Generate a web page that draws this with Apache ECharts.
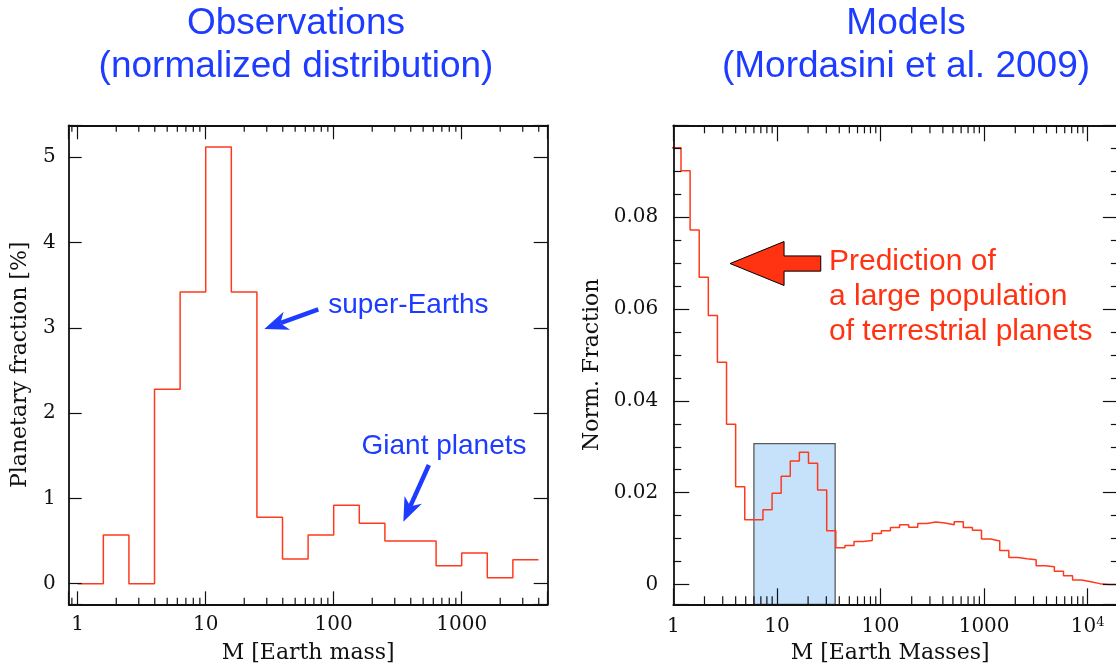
<!DOCTYPE html>
<html>
<head>
<meta charset="utf-8">
<script src="https://cdn.jsdelivr.net/npm/echarts@6/dist/echarts.min.js"></script>
<style>
  html, body { margin: 0; padding: 0; background: #fff; }
  #main { width: 1116px; height: 667px; }
</style>
</head>
<body>
<div id="main"></div>
<script>
// ---- Observed planetary mass distribution (0.2 dex bins) ----
const obsBinEdges = [1, 1.585, 2.512, 3.981, 6.310, 10, 15.85, 25.12, 39.81, 63.10,
                     100, 158.5, 251.2, 398.1, 631.0, 1000, 1585, 2512, 3981];
const obsFraction = [0, 0.57, 0, 2.28, 3.42, 5.12, 3.42, 0.78, 0.29, 0.57,
                     0.92, 0.71, 0.50, 0.50, 0.21, 0.36, 0.07, 0.28];

// ---- Synthetic population mass function, equal log-width bins ----
const modelLogStart = -0.0136;   // log10 of the first bin's lower edge
const modelLogStep = 0.0879;     // bin width in dex
const modelFraction = [
  0.0951, 0.0901, 0.0772, 0.0669, 0.0586, 0.0484, 0.0349, 0.0213, 0.0141, 0.0141,
  0.0163, 0.0199, 0.0236, 0.0269, 0.0288, 0.0264, 0.0206, 0.0117, 0.0080, 0.0085,
  0.0094, 0.0096, 0.0111, 0.0117, 0.0124, 0.0130, 0.0125, 0.0133, 0.0136, 0.0134,
  0.0130, 0.0137, 0.0124, 0.0118, 0.0099, 0.0095, 0.0074, 0.0059, 0.0056, 0.0054,
  0.0041, 0.0039, 0.0029, 0.0019, 0.0010, 0.0006, 0.0002, 0, 0, 0
];

// highlighted super-Earth / Neptune mass range in the model panel
const highlightMass = [6.0, 36.5];
const highlightTop = 0.0307;

// axis ranges and labelled ticks
const obsMassRange = [0.85, 4700];
const obsFracRange = [-0.2415, 5.374];
const modelMassRange = [1, 20000];
const modelFracRange = [-0.0043, 0.1];
const obsMassTicks = [1, 10, 100, 1000];
const obsFracTicks = [0, 1, 2, 3, 4, 5];
const modelMassTicks = [1, 10, 100, 1000, 10000];
const modelFracTicks = [0, 0.02, 0.04, 0.06, 0.08];

const BLUE = '#1e3cff';
const RED = '#ff3a1c';
const INK = '#111';
const SERIF = '"DejaVu Serif", "Liberation Serif", serif';
const SANS = '"Liberation Sans", Arial, Helvetica, sans-serif';

function stepPoints(edges, values) {
  return edges.map((e, i) => [e, values[Math.min(i, values.length - 1)]]);
}
const modelEdges = [];
for (let i = 0; i <= modelFraction.length; i++) {
  modelEdges.push(Math.pow(10, modelLogStart + i * modelLogStep));
}

// 2..9 minor ticks of every decade inside a range
function logMinorTicks(range) {
  const out = [];
  for (let d = -1; d <= 5; d++) {
    for (let m = 2; m <= 9; m++) {
      const v = m * Math.pow(10, d);
      if (v > range[0] && v < range[1]) out.push(v);
    }
  }
  return out;
}

function inList(list, v) {
  return list.some(t => Math.abs(t - v) <= 1e-9 * Math.max(1, Math.abs(t)));
}

function massLabel(ticks, margin) {
  return {
    show: true, margin, fontFamily: SERIF, fontSize: 20, color: INK,
    formatter: v => {
      if (!inList(ticks, v)) return '';
      if (v >= 10000) return '{a|10}{b|' + Math.round(Math.log10(v)) + '}';
      return String(v);
    },
    rich: {
      a: { fontFamily: SERIF, fontSize: 20, color: INK },
      b: { fontFamily: SERIF, fontSize: 13, color: INK, verticalAlign: 'top' }
    }
  };
}

function massAxis(gridIndex, position, range, tickLen, label, extra) {
  return Object.assign({
    type: 'log', logBase: 10, gridIndex, position,
    min: range[0], max: range[1], z: 5,
    axisLine: { show: true, onZero: false, lineStyle: { color: INK, width: 1.8 } },
    axisTick: { show: true, inside: true, length: tickLen, lineStyle: { color: INK, width: 1.2 } },
    minorTick: { show: false },
    splitLine: { show: false },
    axisLabel: label || { show: false }
  }, extra || {});
}

function fracAxis(gridIndex, position, range, ticks, tickLen, labelMargin, minor, step, extra) {
  return Object.assign({
    type: 'value', gridIndex, position,
    min: range[0], max: range[1], minInterval: step, maxInterval: step, z: 5,
    axisLine: { show: true, onZero: false, lineStyle: { color: INK, width: 1.8 } },
    axisTick: { show: true, inside: true, length: tickLen, lineStyle: { color: INK, width: 1.2 } },
    minorTick: minor ? { show: true, splitNumber: 4, length: minor, lineStyle: { color: INK, width: 1.2 } } : { show: false },
    splitLine: { show: false },
    minorSplitLine: { show: false },
    axisLabel: labelMargin ? {
      show: true, margin: labelMargin, fontFamily: SERIF, fontSize: 20, color: INK,
      formatter: v => inList(ticks, v) ? String(+v.toFixed(4)) : ''
    } : { show: false }
  }, extra || {});
}

const chart = echarts.init(document.getElementById('main'), null, { renderer: 'canvas' });

const option = {
  animation: false,
  backgroundColor: '#fff',
  grid: [
    { left: 68.7, top: 125.3, width: 479, height: 479, outerBoundsMode: 'none' },
    { left: 673.3, top: 125.3, width: 445.6, height: 479, outerBoundsMode: 'none' }
  ],
  xAxis: [
    massAxis(0, 'bottom', obsMassRange, 13, massLabel(obsMassTicks, 10), {
      name: 'M [Earth mass]', nameLocation: 'middle', nameGap: 38, nameMoveOverlap: false,
      nameTextStyle: { fontFamily: SERIF, fontSize: 22, color: INK }
    }),
    massAxis(0, 'top', obsMassRange, 14),
    massAxis(1, 'bottom', modelMassRange, 16, massLabel(modelMassTicks, 12), {
      name: 'M [Earth Masses]', nameLocation: 'middle', nameGap: 38, nameMoveOverlap: false,
      nameTextStyle: { fontFamily: SERIF, fontSize: 22, color: INK, padding: [0, 12, 0, 0] }
    }),
    massAxis(1, 'top', modelMassRange, 16)
  ],
  yAxis: [
    fracAxis(0, 'left', obsFracRange, obsFracTicks, 13, 13, 0, 1, {
      name: 'Planetary fraction [%]', nameLocation: 'middle', nameGap: 37, nameMoveOverlap: false,
      nameTextStyle: { fontFamily: SERIF, fontSize: 22, color: INK }
    }),
    fracAxis(0, 'right', obsFracRange, obsFracTicks, 14, 0, 0, 1),
    fracAxis(1, 'left', modelFracRange, modelFracTicks, 16, 15, 8, 0.02, {
      name: 'Norm. Fraction', nameLocation: 'middle', nameGap: 70, nameMoveOverlap: false,
      nameTextStyle: { fontFamily: SERIF, fontSize: 22, color: INK }
    }),
    fracAxis(1, 'right', modelFracRange, modelFracTicks, 16, 0, 8, 0.02)
  ],
  series: [
    {
      type: 'line', xAxisIndex: 0, yAxisIndex: 0, z: 3,
      step: 'end', symbol: 'none', animation: false,
      lineStyle: { color: RED, width: 1.5 },
      data: stepPoints(obsBinEdges, obsFraction)
    },
    {
      type: 'custom', xAxisIndex: 2, yAxisIndex: 2, z: 1, silent: true, animation: false,
      encode: { x: [0, 1], y: [2, 3] },
      data: [[highlightMass[0], highlightMass[1], modelFracRange[0], highlightTop]],
      renderItem(params, api) {
        const p0 = api.coord([api.value(0), api.value(3)]);
        const p1 = api.coord([api.value(1), api.value(2)]);
        return {
          type: 'rect',
          shape: { x: p0[0], y: p0[1], width: p1[0] - p0[0], height: p1[1] - p0[1] },
          style: { fill: '#c6e2fb', stroke: '#5a5a5a', lineWidth: 1.3 }
        };
      }
    },
    {
      type: 'line', xAxisIndex: 2, yAxisIndex: 2, z: 3,
      step: 'end', symbol: 'none', animation: false,
      lineStyle: { color: RED, width: 1.5 },
      data: stepPoints(modelEdges, modelFraction)
    }
  ]
};

chart.setOption(option);

// ---- annotations and log minor ticks, placed through the axes' scales ----
function px(grid, pt) { return chart.convertToPixel({ gridIndex: grid }, pt); }

function minorTickLines(grid, massRange, fracRange, len) {
  const st = { stroke: INK, lineWidth: 1.2 };
  const out = [];
  logMinorTicks(massRange).forEach(v => {
    const b = px(grid, [v, fracRange[0]]);
    const t = px(grid, [v, fracRange[1]]);
    out.push({ type: 'line', z: 9, silent: true, shape: { x1: b[0], y1: b[1], x2: b[0], y2: b[1] - len }, style: st });
    out.push({ type: 'line', z: 9, silent: true, shape: { x1: t[0], y1: t[1], x2: t[0], y2: t[1] + len }, style: st });
  });
  return out;
}

function barbedArrow(tip, tail, headLen, headHalf, notch, width, color) {
  const dx = tail[0] - tip[0], dy = tail[1] - tip[1];
  const len = Math.hypot(dx, dy);
  const ux = dx / len, uy = dy / len, nx = -uy, ny = ux;
  const back = [tip[0] + ux * headLen, tip[1] + uy * headLen];
  const inner = [tip[0] + ux * (headLen - notch), tip[1] + uy * (headLen - notch)];
  return [
    { type: 'line', z: 10, shape: { x1: tail[0], y1: tail[1], x2: inner[0], y2: inner[1] },
      style: { stroke: color, lineWidth: width } },
    { type: 'polygon', z: 10, shape: { points: [tip,
        [back[0] + nx * headHalf, back[1] + ny * headHalf], inner,
        [back[0] - nx * headHalf, back[1] - ny * headHalf]] },
      style: { fill: color } }
  ];
}

const seTip = px(0, [28.7, 2.986]), seTail = px(0, [75.8, 3.217]), seText = px(0, [90.7, 3.261]);
const gpTip = px(0, [350, 0.727]), gpTail = px(0, [554, 1.392]), gpText = px(0, [165, 1.614]);
const prTip = px(1, [3.53, 0.0699]), prTail = px(1, [26.5, 0.0699]), prText = px(1, [31.8, 0.0699]);

const headL = 54, headH = 22, shaftH = 7.6;
const redArrow = [
  prTip,
  [prTip[0] + headL, prTip[1] - headH],
  [prTip[0] + headL, prTip[1] - shaftH],
  [prTail[0], prTip[1] - shaftH],
  [prTail[0], prTip[1] + shaftH],
  [prTip[0] + headL, prTip[1] + shaftH],
  [prTip[0] + headL, prTip[1] + headH]
];

const TITLE_FONT = '37px ' + SANS;
const graphics = [
  { type: 'text', z: 10, x: 296, y: 24, style: { text: 'Observations', font: TITLE_FONT, fill: BLUE, align: 'center', verticalAlign: 'middle' } },
  { type: 'text', z: 10, x: 296, y: 67, style: { text: '(normalized distribution)', font: TITLE_FONT, fill: BLUE, align: 'center', verticalAlign: 'middle' } },
  { type: 'text', z: 10, x: 906, y: 24, style: { text: 'Models', font: TITLE_FONT, fill: BLUE, align: 'center', verticalAlign: 'middle' } },
  { type: 'text', z: 10, x: 906, y: 67, style: { text: '(Mordasini et al. 2009)', font: TITLE_FONT, fill: BLUE, align: 'center', verticalAlign: 'middle' } },
  { type: 'text', z: 10, x: seText[0], y: seText[1], style: { text: 'super-Earths', font: '28px ' + SANS, fill: BLUE, align: 'left', verticalAlign: 'middle' } },
  { type: 'text', z: 10, x: gpText[0], y: gpText[1], style: { text: 'Giant planets', font: '28px ' + SANS, fill: BLUE, align: 'left', verticalAlign: 'middle' } },
  { type: 'polygon', z: 10, shape: { points: redArrow }, style: { fill: '#ff3311', stroke: '#000', lineWidth: 1 } },
  { type: 'text', z: 10, x: prText[0], y: prText[1] - 2, style: { text: 'Prediction of', font: '30px ' + SANS, fill: '#ff3311', align: 'left', verticalAlign: 'middle' } },
  { type: 'text', z: 10, x: prText[0], y: prText[1] + 33, style: { text: 'a large population', font: '30px ' + SANS, fill: '#ff3311', align: 'left', verticalAlign: 'middle' } },
  { type: 'text', z: 10, x: prText[0], y: prText[1] + 68, style: { text: 'of terrestrial planets', font: '30px ' + SANS, fill: '#ff3311', align: 'left', verticalAlign: 'middle' } }
].concat(
  minorTickLines(0, obsMassRange, obsFracRange, 6.5),
  minorTickLines(1, modelMassRange, modelFracRange, 8),
  barbedArrow(seTip, seTail, 24, 9.5, 7, 4.5, BLUE),
  barbedArrow(gpTip, gpTail, 24, 9.5, 7, 4.5, BLUE)
);

chart.setOption({ graphic: graphics });
</script>
</body>
</html>
